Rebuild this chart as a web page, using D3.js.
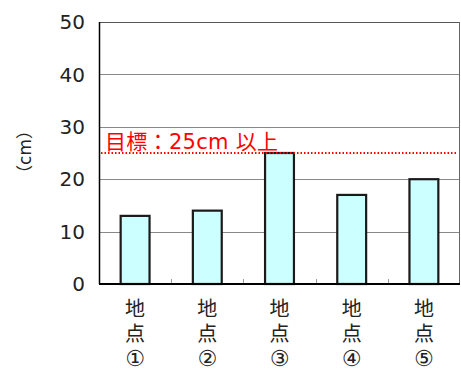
<!DOCTYPE html>
<html>
<head>
<meta charset="utf-8">
<script src="https://cdn.jsdelivr.net/npm/d3@7"></script>
<style>
  body { margin: 0; background: #fff; }
  text { font-family: "DejaVu Sans", "Noto Sans CJK JP", sans-serif; }
</style>
</head>
<body>
<script>
const sites = ['地点①', '地点②', '地点③', '地点④', '地点⑤']
const heights = [13, 14, 25, 17, 20]
const yTicks = [0, 10, 20, 30, 40, 50]
const target = 25
const targetLabel = '目標：25cm 以上'

const W = 461, H = 372
const margin = { top: 22, right: 1, bottom: 88, left: 99 }
const width = W - margin.left - margin.right
const height = H - margin.top - margin.bottom

const svg = d3.select('body').append('svg')
  .attr('width', W)
  .attr('height', H)

const g = svg.append('g')
  .attr('transform', `translate(${margin.left}, ${margin.top})`)

const x = d3.scaleBand()
  .domain(sites)
  .range([0, width])
  .paddingInner(0.6)
  .paddingOuter(0.3)

const xCat = d3.scaleBand().domain(sites).range([0, width])

const y = d3.scaleLinear()
  .domain([0, 50])
  .range([height, 0])

// gridlines
g.selectAll('.grid')
  .data(yTicks.filter(d => d > 0))
  .enter().append('line')
  .attr('x1', 0)
  .attr('x2', width)
  .attr('y1', d => Math.round(y(d)) + 0.5)
  .attr('y2', d => Math.round(y(d)) + 0.5)
  .attr('stroke', d => d === 50 ? '#555' : '#888')
  .attr('stroke-width', 1)

// right border
g.append('line')
  .attr('x1', width - 0.5).attr('x2', width - 0.5)
  .attr('y1', 0).attr('y2', height)
  .attr('stroke', '#666')

// minor ticks between categories
g.selectAll('.minor')
  .data(sites.slice(1))
  .enter().append('line')
  .attr('x1', d => Math.round(xCat(d)) + 0.5)
  .attr('x2', d => Math.round(xCat(d)) + 0.5)
  .attr('y1', height)
  .attr('y2', height - 5)
  .attr('stroke', '#999')

// bars
g.selectAll('.bar')
  .data(sites)
  .enter().append('rect')
  .attr('x', d => x(d))
  .attr('y', (d, i) => y(heights[i]))
  .attr('width', x.bandwidth())
  .attr('height', (d, i) => height - y(heights[i]))
  .attr('fill', '#ccffff')
  .attr('stroke', '#1a1a1a')
  .attr('stroke-width', 2.2)

// target line
g.append('line')
  .attr('x1', 2)
  .attr('x2', width - 4)
  .attr('y1', y(target))
  .attr('y2', y(target))
  .attr('stroke', '#ff0000')
  .attr('stroke-width', 2)
  .attr('stroke-dasharray', '1.5,2')

g.append('text')
  .attr('x', 6)
  .attr('y', y(target) - 4)
  .attr('fill', '#ff0000')
  .attr('font-size', 21)
  .attr('letter-spacing', 0.3)
  .text(targetLabel)

// axes
g.append('line')
  .attr('x1', 0.5).attr('x2', 0.5)
  .attr('y1', 0).attr('y2', height)
  .attr('stroke', '#000').attr('stroke-width', 1.5)

g.append('line')
  .attr('x1', 0).attr('x2', width)
  .attr('y1', height).attr('y2', height)
  .attr('stroke', '#000').attr('stroke-width', 2)

// y tick labels
g.selectAll('.ylab')
  .data(yTicks)
  .enter().append('text')
  .attr('x', -14)
  .attr('y', d => y(d))
  .attr('dy', '0.36em')
  .attr('text-anchor', 'end')
  .attr('font-size', 20)
  .attr('fill', '#222')
  .text(d => d)

// y axis title
svg.append('text')
  .attr('transform', 'translate(31, 152) rotate(-90)')
  .attr('text-anchor', 'middle')
  .attr('font-size', 17)
  .attr('fill', '#222')
  .text('（cm）')

// category labels, stacked vertically
sites.forEach(s => {
  const cx = x(s) + x.bandwidth() / 2
  const t = g.append('text')
    .attr('text-anchor', 'middle')
    .attr('font-size', 20)
    .attr('fill', '#222')
  Array.from(s).forEach((ch, i) => {
    t.append('tspan')
      .attr('x', cx)
      .attr('y', height + 32 + i * 25)
      .attr('font-size', i === 2 ? 22 : 20)
      .text(ch)
  })
})
</script>
</body>
</html>
